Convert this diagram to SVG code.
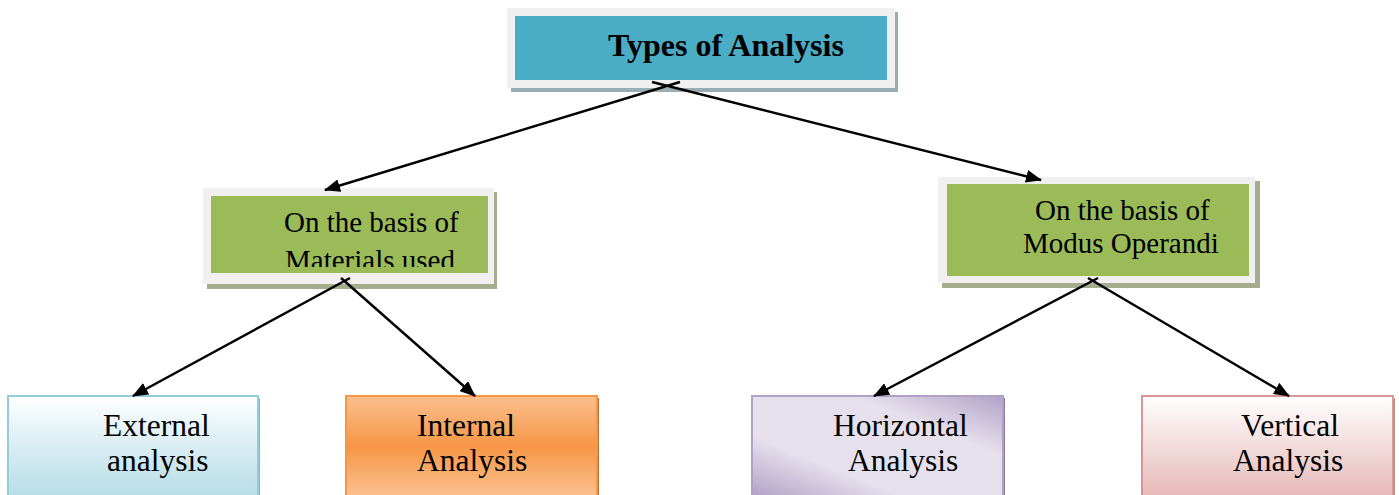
<svg xmlns="http://www.w3.org/2000/svg" width="1399" height="495" viewBox="0 0 1399 495">
<defs>
<style>
.t{font-family:"Liberation Serif","Times New Roman",serif;fill:#000}
.mid{font-size:29px}
.bot{font-size:31.5px}
.conn line{stroke:#000;stroke-width:2.4}
</style>
<marker id="ah" viewBox="0 0 16 13" refX="15" refY="6.5" markerWidth="16" markerHeight="13" markerUnits="userSpaceOnUse" orient="auto">
<path d="M0,0 L16,6.5 L0,13 z" fill="#000"/>
</marker>
<linearGradient id="gBlue" x1="0" y1="0" x2="0" y2="1">
<stop offset="0" stop-color="#ffffff"/><stop offset="0.6" stop-color="#d2eaf0"/><stop offset="1" stop-color="#b7dde8"/>
</linearGradient>
<linearGradient id="gOrange" x1="0" y1="0" x2="0" y2="1">
<stop offset="0" stop-color="#fac08f"/><stop offset="0.5" stop-color="#f79646"/><stop offset="1" stop-color="#fac08f"/>
</linearGradient>
<linearGradient id="gPurple" x1="0" y1="1" x2="1" y2="0">
<stop offset="0" stop-color="#b2a1c7"/><stop offset="0.3" stop-color="#e5e0ec"/><stop offset="0.7" stop-color="#e5e0ec"/><stop offset="1" stop-color="#b2a1c7"/>
</linearGradient>
<linearGradient id="gPink" x1="0" y1="0" x2="0" y2="1">
<stop offset="0" stop-color="#ffffff"/><stop offset="1" stop-color="#e6b9b8"/>
</linearGradient>
<clipPath id="clipMat"><rect x="211" y="196" width="277" height="71"/></clipPath>
</defs>

<g id="node-types">
<rect x="511" y="12" width="387" height="80" fill="#9aacb4"/>
<rect x="507" y="8" width="388" height="80" fill="#f0f0f0"/>
<rect x="515" y="16" width="372" height="64" fill="#4bacc6"/>
<text class="t" x="608" y="56" font-size="32" font-weight="bold">Types of Analysis</text>
</g>

<g id="node-materials">
<rect x="207" y="192" width="290" height="97" fill="#a4ae8e"/>
<rect x="203" y="188" width="291" height="96" fill="#f0f0f0"/>
<rect x="211" y="196" width="277" height="77" fill="#9bbb59"/>
<text class="t mid" x="284" y="232">On the basis of</text>
<text class="t mid" x="285" y="270" clip-path="url(#clipMat)">Materials used</text>
</g>

<g id="node-modus">
<rect x="942" y="181" width="318" height="107" fill="#a4ae8e"/>
<rect x="938" y="177" width="317" height="106" fill="#f0f0f0"/>
<rect x="947" y="184" width="302" height="92" fill="#9bbb59"/>
<text class="t mid" x="1035" y="220">On the basis of</text>
<text class="t mid" x="1023" y="253">Modus Operandi</text>
</g>

<g id="node-external">
<rect x="10" y="398" width="250" height="100" fill="#8fb4be"/>
<rect x="8" y="396" width="250" height="100" fill="url(#gBlue)" stroke="#92cddc" stroke-width="2"/>
<text class="t bot" x="103" y="436">External</text>
<text class="t bot" x="107" y="471">analysis</text>
</g>

<g id="node-internal">
<rect x="348" y="398" width="251" height="100" fill="#b8703a"/>
<rect x="346" y="396" width="251" height="100" fill="url(#gOrange)" stroke="#f79646" stroke-width="2"/>
<text class="t bot" x="417" y="436">Internal</text>
<text class="t bot" x="417" y="471">Analysis</text>
</g>

<g id="node-horizontal">
<rect x="754" y="398" width="251" height="100" fill="#8a7ca0"/>
<rect x="752" y="396" width="251" height="100" fill="url(#gPurple)" stroke="#b2a1c7" stroke-width="2"/>
<text class="t bot" x="833" y="436">Horizontal</text>
<text class="t bot" x="848" y="471">Analysis</text>
</g>

<g id="node-vertical">
<rect x="1144" y="398" width="251" height="100" fill="#b08a89"/>
<rect x="1142" y="396" width="251" height="100" fill="url(#gPink)" stroke="#d99694" stroke-width="2"/>
<text class="t bot" x="1241" y="436">Vertical</text>
<text class="t bot" x="1233" y="471">Analysis</text>
</g>

<g id="connectors" class="conn">
<line x1="680" y1="82" x2="325" y2="190" marker-end="url(#ah)"/>
<line x1="652" y1="82" x2="1041" y2="180" marker-end="url(#ah)"/>
<line x1="350" y1="278" x2="133" y2="396" marker-end="url(#ah)"/>
<line x1="341" y1="278" x2="475" y2="396" marker-end="url(#ah)"/>
<line x1="1098" y1="278" x2="874" y2="396" marker-end="url(#ah)"/>
<line x1="1088" y1="278" x2="1289" y2="396" marker-end="url(#ah)"/>
</g>
</svg>
